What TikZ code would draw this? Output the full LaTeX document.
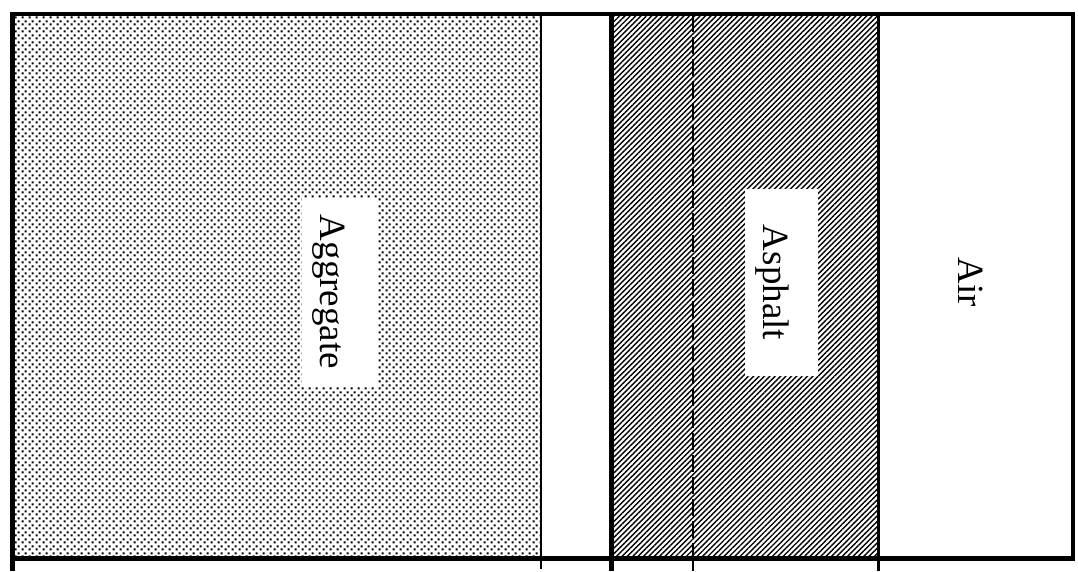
\documentclass[tikz,border=0pt]{standalone}
\usepackage{fontspec}
\setmainfont{Liberation Serif}
\usetikzlibrary{patterns.meta}
\pgfdeclarepattern{name=aggdots, type=uncolored,
  bottom left={\pgfpoint{0pt}{0pt}}, top right={\pgfpoint{7pt}{7pt}},
  tile size={\pgfpoint{7pt}{7pt}},
  code={\pgfpathrectangle{\pgfpoint{0.6pt}{0.6pt}}{\pgfpoint{2.3pt}{2.3pt}}
        \pgfpathrectangle{\pgfpoint{4.1pt}{4.1pt}}{\pgfpoint{2.3pt}{2.3pt}}\pgfusepath{fill}}}
\tikzset{
  labelbox/.style={fill=white, draw=none, rotate=-90, inner sep=0pt},
  labeltext/.style={rotate=-90, inner sep=0pt, font=\fontsize{37}{40}\selectfont},
  hatch/.style={pattern={Lines[angle=45,distance=3.8pt,line width=1.4pt]}},
  dotted fill/.style={pattern=aggdots},
}
\begin{document}
\begin{tikzpicture}[x=1pt,y=-1pt]
\useasboundingbox (0,0) rectangle (1078,571);
% fills
\fill[dotted fill] (12,14) rectangle (541,558);
\fill[hatch] (611,14) rectangle (878,558);
% label boxes
\node[labelbox, minimum width=189pt, minimum height=75pt] (aggbox) at (339,292) {};
\node[labeltext] (agg) at (328.5,292) {Aggregate};
\node[labelbox, minimum width=187pt, minimum height=73pt] (aspbox) at (781.5,282) {};
\node[labeltext] (asp) at (772,282.5) {Asphalt};
\node[labeltext] (air) at (971,282) {Air};
% frame
\draw[line width=4pt] (12,14) -- (1075,14);
\draw[line width=5pt] (10,558) -- (1075,558);
\draw[line width=5pt] (12,12) -- (12,571);
\draw[line width=4pt] (1073,12) -- (1073,560);
% dividers
\draw[line width=2.5pt] (541,14) -- (541,569);
\draw[line width=5pt] (611,14) -- (611,571);
\draw[line width=3pt] (878,14) -- (878,571);
\draw[line width=2pt, dash pattern=on 17pt off 5pt] (693,15) -- (693,556);
\draw[line width=2pt] (693,556) -- (693,571);
\end{tikzpicture}
\end{document}
